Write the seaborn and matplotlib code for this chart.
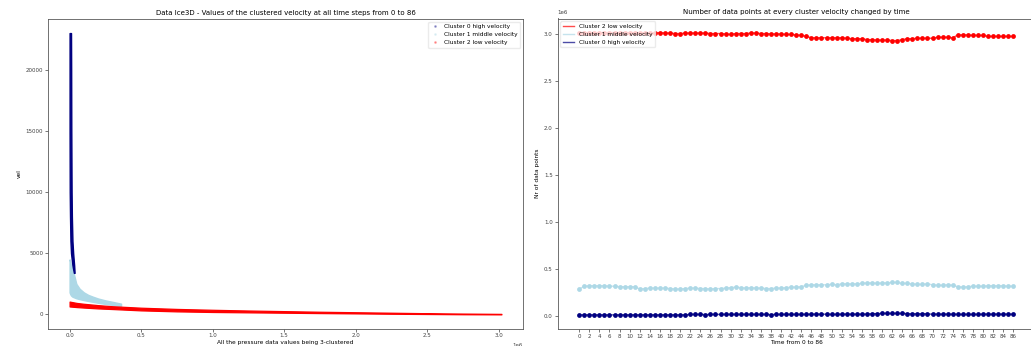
import matplotlib
matplotlib.use("Agg")
import matplotlib.pyplot as plt
from matplotlib.lines import Line2D
import seaborn as sns
import numpy as np
import pandas as pd

# ---- left panel: clustered velocity bands (x in 1e6 units) ----
c0_y = [23000, 20000, 15000, 10000, 8000, 6000, 5000, 4000, 3400]
c0_left = [0.0, 0.0, 0.0, 0.001, 0.003, 0.006, 0.010, 0.020, 0.030]
c0_right = [0.010, 0.011, 0.012, 0.014, 0.016, 0.020, 0.025, 0.032, 0.035]

c1_x = [0.0, 0.005, 0.01, 0.02, 0.03, 0.047, 0.07, 0.1, 0.13, 0.163, 0.2, 0.25, 0.3, 0.36]
c1_upper = [4500, 4300, 4000, 3700, 3300, 2500, 2100, 1800, 1600, 1450, 1300, 1150, 1030, 880]
c1_lower = [1800, 1650, 1550, 1450, 1400, 1320, 1250, 1170, 1100, 1030, 950, 860, 780, 680]

c2_x = [0.0, 0.05, 0.1, 0.2, 0.3, 0.5, 0.75, 1.0, 1.25, 1.5, 1.75, 2.0, 2.25, 2.5, 2.75, 3.02]
c2_upper = [1050, 940, 870, 760, 670, 550, 450, 380, 320, 270, 220, 180, 140, 100, 70, 45]
c2_lower = [650, 600, 560, 490, 440, 330, 250, 200, 170, 140, 110, 85, 55, 35, 15, 5]

# ---- right panel: number of points per cluster over time (1e6 units) ----
time_steps = list(range(87))
low_counts = [
    3.02, 3.02, 3.02, 3.02, 3.02, 3.02, 3.02, 3.02, 3.02, 3.02, 3.02, 3.02,
    3.015, 3.015, 3.015, 3.015, 3.02, 3.015, 3.015, 3.01, 3.01, 3.015, 3.015, 3.015,
    3.015, 3.015, 3.01, 3.01, 3.01, 3.005,
    3.0, 3.01, 3.01, 3.01, 3.015, 3.015, 3.01, 3.01, 3.005, 3.005, 3.005, 3.0,
    3.0, 2.995, 2.99, 2.98,
    2.965, 2.965, 2.965, 2.965, 2.965, 2.965, 2.965, 2.96, 2.955, 2.955, 2.955,
    2.945, 2.945, 2.94, 2.94, 2.94, 2.935, 2.935, 2.945,
    2.955, 2.955, 2.96, 2.96, 2.96, 2.96, 2.97, 2.97, 2.97, 2.965,
    2.995, 2.995, 2.995, 2.99, 2.99, 2.99, 2.98, 2.98, 2.98, 2.98, 2.98, 2.98,
]
middle_counts = [
    0.29,
    0.32, 0.325, 0.325, 0.325, 0.325, 0.32, 0.32, 0.315, 0.315, 0.315, 0.315,
    0.29, 0.295, 0.30, 0.30, 0.30, 0.30, 0.295, 0.29, 0.29, 0.295, 0.30, 0.30,
    0.295, 0.295, 0.29, 0.295, 0.295, 0.30,
    0.305, 0.31, 0.305, 0.30, 0.305, 0.30, 0.30, 0.295, 0.295, 0.30, 0.30, 0.305,
    0.31, 0.31, 0.315, 0.33,
    0.335, 0.335, 0.335, 0.335, 0.34, 0.335, 0.345, 0.345, 0.345, 0.345, 0.35,
    0.355, 0.355, 0.35, 0.355, 0.355, 0.36, 0.36, 0.35,
    0.35, 0.345, 0.34, 0.34, 0.345, 0.335, 0.33, 0.33, 0.335, 0.33,
    0.315, 0.31, 0.315, 0.32, 0.32, 0.32, 0.325, 0.325, 0.325, 0.325, 0.32, 0.32,
]
high_counts = [
    0.015, 0.015, 0.015, 0.015, 0.015, 0.015, 0.015, 0.015, 0.015, 0.015, 0.015,
    0.015, 0.015, 0.015, 0.015, 0.015, 0.015, 0.015, 0.015, 0.015, 0.015, 0.015,
    0.02, 0.02, 0.02, 0.018, 0.02, 0.02, 0.02, 0.02, 0.02, 0.02, 0.02, 0.02,
    0.02, 0.02, 0.02, 0.02, 0.018, 0.02, 0.02, 0.02, 0.02, 0.02, 0.02, 0.02,
    0.022, 0.022, 0.022, 0.022, 0.02, 0.02, 0.022, 0.022, 0.022, 0.022, 0.022, 0.022,
    0.028, 0.028, 0.03, 0.03, 0.03, 0.03, 0.03, 0.028, 0.026, 0.026, 0.028,
    0.025, 0.022, 0.022, 0.022, 0.022, 0.022, 0.02, 0.02, 0.02, 0.02, 0.02,
    0.022, 0.022, 0.022, 0.022, 0.022, 0.022, 0.022,
]

cluster_names = ["Cluster 0 high velocity", "Cluster 1 middle velocity", "Cluster 2 low velocity"]
cluster_colors = ["navy", "lightblue", "red"]

TITLE_FS = 5.0
LABEL_FS = 4.2
TICK_FS = 4.0
LEGEND_FS = 4.2

plt.rcParams['font.family'] = ['DejaVu Sans']
plt.rcParams['axes.linewidth'] = 0.6
plt.rcParams['axes.edgecolor'] = '0.35'

fig = plt.figure(figsize=(10.31, 3.46), dpi=100)
ax1 = fig.add_axes([48 / 1031, 1 - 328.5 / 346, (523 - 48) / 1031, (328.5 - 19) / 346])
ax2 = fig.add_axes([557.5 / 1031, 1 - 329 / 346, (1035 - 557.5) / 1031, (329 - 18.5) / 346])

# left panel
ax1.fill_betweenx(c0_y, np.array(c0_left) * 1e6, np.array(c0_right) * 1e6,
                  color=cluster_colors[0], linewidth=1.0, zorder=3)
ax1.fill_between(np.array(c1_x) * 1e6, c1_lower, c1_upper,
                 color=cluster_colors[1], linewidth=1.0, zorder=2)
ax1.fill_between(np.array(c2_x) * 1e6, c2_lower, c2_upper,
                 color=cluster_colors[2], linewidth=0.9, zorder=2)
ax1.set_xlim(-0.151e6, 3.171e6)
ax1.set_ylim(-1150, 24150)
ax1.set_title("Data Ice3D - Values of the clustered velocity at all time steps from 0 to 86",
              fontsize=TITLE_FS, pad=3)
ax1.set_xlabel("All the pressure data values being 3-clustered", fontsize=LABEL_FS, labelpad=1)
ax1.set_ylabel("vel", fontsize=LABEL_FS, labelpad=3)
handles = [Line2D([], [], marker='.', linestyle='', color=c, alpha=0.3, markersize=2)
           for c in cluster_colors]
ax1.legend(handles, cluster_names, loc="upper right", fontsize=LEGEND_FS,
           frameon=True, framealpha=0.8, edgecolor='0.9', handlelength=1.5)

# right panel
series = [("Cluster 2 low velocity", low_counts, "red"),
          ("Cluster 1 middle velocity", middle_counts, "lightblue"),
          ("Cluster 0 high velocity", high_counts, "navy")]
for name, vals, col in series:
    df = pd.DataFrame({"time": time_steps, "count": np.array(vals) * 1e6})
    sns.lineplot(data=df, x="time", y="count", color=col, label=name,
                 linewidth=1.0, alpha=0.7, ax=ax2)
    sns.scatterplot(data=df, x="time", y="count", color=col, s=12,
                    linewidth=0, ax=ax2, zorder=3)
ax2.set_xticks(time_steps[::2])
ax2.set_title("Number of data points at every cluster velocity changed by time",
              fontsize=TITLE_FS, pad=3)
ax2.set_xlabel("Time from 0 to 86", fontsize=LABEL_FS, labelpad=1)
ax2.set_ylabel("Nr of data points", fontsize=LABEL_FS, labelpad=3)
ax2.legend(loc="upper left", fontsize=LEGEND_FS, framealpha=0.8, edgecolor='0.9',
           handlelength=2.0)

for ax in (ax1, ax2):
    ax.tick_params(labelsize=TICK_FS, length=2, width=0.5, pad=1.5, colors='0.25')
    ax.xaxis.get_offset_text().set_fontsize(TICK_FS)
    ax.yaxis.get_offset_text().set_fontsize(TICK_FS)

fig.savefig("out.png", dpi=100)
